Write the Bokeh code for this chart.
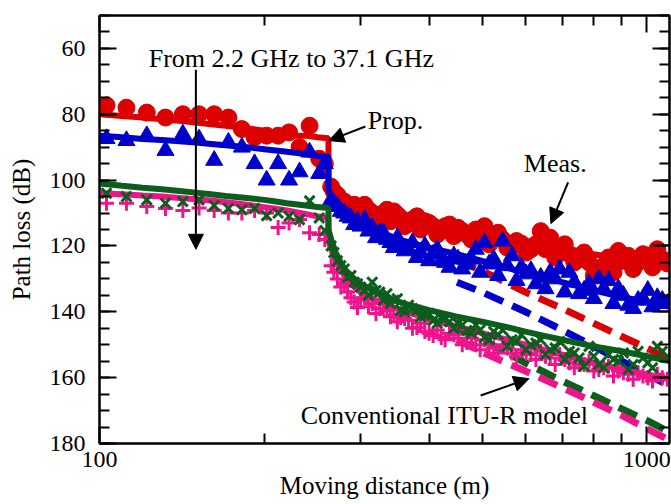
from bokeh.plotting import figure
from bokeh.models import Range1d, FixedTicker, LinearAxis, LogAxis, Arrow, NormalHead, Label
from bokeh.embed import file_html
from bokeh.resources import INLINE

# ---------------- data ----------------
# measured points, first pass
dist_meas = [103, 112, 122, 132, 142, 152, 162, 172, 182, 192, 202, 212, 222, 232, 242, 252, 258,
             265, 272, 280, 288, 296, 305, 315, 325, 335, 345, 355, 367, 380, 393, 407, 421, 436, 452,
             469, 487, 505, 525, 545, 567, 590, 614, 640, 666, 693, 722, 752, 784, 817, 851, 887, 925,
             964, 1004, 1045, 1090]

red_meas = [77.3, 78, 79.5, 81, 80, 80, 80, 81, 84.5, 87, 86.5, 86.5, 85.5, 90, 83.5, 93.5, 95,
            102, 104.5, 106.5, 108, 109, 107.5, 110, 111, 109, 109.5, 111.5, 113, 111, 112.5, 114, 115.5,
            113.5, 114.5, 116.5, 115, 114, 117, 118, 120, 119.3, 121, 115.5, 117.5, 121, 122.5, 124, 125,
            127.5, 123.5, 121.5, 123, 125, 123, 121, 125.3]

blue_meas = [87.4, 88, 86.5, 91, 86, 87.5, 94, 88.5, 90, 95, 100, 95, 100, 97.5, 91.5, 98, 95,
             106, 108, 110, 111.5, 112.5, 112, 114.5, 116, 118, 120.5, 119.5, 121, 123.5, 120, 122.5,
             124.5, 126.5, 124, 125.5, 121, 119, 124, 118.5, 123, 126.5, 127.5, 129.5, 128, 127, 128,
             134.5, 131.5, 130, 130.5, 133, 138, 136.5, 133.5, 135.7, 137.5]

green_meas = [104, 105, 106, 107, 106.5, 106, 107.7, 108.6, 109, 108.6, 110.8, 110, 111, 112, 106.3, 111.5, 115.3,
              120, 124.5, 127, 129, 131.5, 133.5, 131, 134, 134.5, 136.5, 139.5, 138, 139.5, 141, 142.6,
              141.7, 143, 143.6, 145.7, 144, 147.8, 146, 145.5, 148.5, 147, 150, 148.5, 151.5, 149, 152,
              154, 150.5, 156, 153, 155, 157.5, 152, 155.5, 150.5, 153.5]

pink_meas = [107, 107, 108, 108.6, 109.2, 108.5, 109.2, 110, 110, 109.2, 110, 114.4, 113, 112, 116, 116.5, 118,
             126, 130, 131.5, 135.7, 138.7, 135.7, 137.5, 139, 139.6, 141, 141.7, 142.6, 144.8, 146, 147.2,
             147.8, 146.5, 148, 149.3, 150, 148.5, 151, 150, 152.5, 151.5, 153, 152, 154, 153, 155.5,
             156, 155, 157.5, 156.5, 158, 159, 158.5, 160, 159, 160.5]

# measured points, second (interleaved) pass beyond the corner
dist_meas2 = [268, 276, 284, 292, 300, 310, 320, 330, 340, 350, 361, 373, 386, 400, 414, 428, 444, 460,
              478, 496, 515, 535, 556, 578, 602, 627, 653, 680, 708, 737, 768, 800, 834, 869, 906, 944,
              984, 1024, 1067]

red_meas2 = [103.5, 106, 108.5, 107.5, 110.5, 109, 112, 110, 112.5, 110.5, 114, 112, 115, 113, 116.5, 114,
             117, 115.5, 118, 117, 119.5, 116, 120.5, 118.5, 122, 119.5, 121, 123.5, 119.5, 125, 122, 129,
             126, 128, 124.5, 127, 122.5, 126.5, 124]

blue_meas2 = [107, 109.5, 111, 113.5, 114, 115.5, 117.5, 116, 119, 117.5, 121.5, 119, 122, 124.5, 121, 125,
              123, 127, 124, 128, 125.5, 129, 126, 130.5, 128.5, 131.5, 133, 130, 134, 131, 133.5, 136,
              133, 137.5, 135, 139, 136, 138.5, 136.5]

green_meas2 = [122, 126, 129.5, 131, 132.5, 135, 133.5, 136.5, 137.5, 136, 140, 139, 141.5, 140.5, 143.5, 142,
               145, 144, 146.5, 145.5, 148.5, 147, 150.5, 149, 151.5, 149.5, 153, 151, 154.5, 152.5, 156.5,
               153.5, 157, 154.5, 152.5, 156, 154, 157, 152]

pink_meas2 = [128, 132.5, 134, 137, 136.5, 138.5, 140.5, 139, 141.5, 143, 142, 145, 143.5, 146.5, 145.5, 148.5,
              147, 150, 148, 151.5, 150, 152.5, 151, 153.5, 152.5, 154.5, 153.5, 156, 154.5, 157, 156, 158,
              157, 159.5, 158.5, 160.5, 159.5, 161, 160]

# proposed model
dist_prop = [100, 110, 120, 130, 140, 150, 160, 170, 180, 190, 200, 210, 220, 230, 240, 250, 262, 262,
             265, 270, 280, 290, 300, 320, 340, 360, 380, 400, 450, 500, 550, 600, 650, 700, 800, 900,
             1000, 1100]

red_prop = [80, 80.5, 81, 81.5, 82, 82.5, 83, 83.5, 84, 84.5, 85, 85.5, 86, 86.5, 86.5, 87, 87.3, 99,
            101, 103, 105.5, 107, 108.5, 110, 111, 112, 113, 113.5, 115, 116.5, 117.5, 118.5, 119.5, 120.5,
            122.5, 124, 125.5, 126.5]

blue_prop = [86.5, 87, 87.5, 87.8, 88.2, 88.6, 89, 89.4, 89.8, 90.2, 90.6, 91, 91.4, 91.8, 92.2, 92.6, 93, 103,
             105, 107, 110, 112, 113.5, 115.5, 117, 118.5, 119.5, 120.5, 122.5, 124.5, 126.5, 128, 129.5,
             131, 133.5, 135.5, 137, 138.5]

green_prop = [101, 101.7, 102.3, 102.8, 103.3, 103.8, 104.3, 104.8, 105.2, 105.6, 106, 106.5, 107, 107.4, 107.8,
              108.2, 108.5, 115, 118, 122, 127, 129.5, 131.5, 134, 136, 137.5, 138.5, 139.5, 141.5, 143, 144.5,
              146, 147.3, 148.5, 150.5, 152, 153.5, 155]

pink_prop = [104, 104.3, 104.7, 105, 105.4, 105.8, 106.2, 106.7, 107.2, 107.7, 108.2, 108.7, 109.2, 109.8, 110.4,
             111, 111.5, 118, 121, 124.5, 129, 132, 134, 136.5, 138.3, 139.8, 141, 142.3, 144.5, 146.5, 148.3,
             150, 151.6, 153, 155.5, 157.5, 159, 160.5]

# conventional ITU-R model
dist_itu = [450, 500, 600, 700, 800, 900, 1000, 1100]
red_itu = [124.5, 127.5, 134, 139, 143.5, 147.5, 151, 154.5]
blue_itu = [131, 134, 140, 145.5, 150.5, 155, 159, 162.5]
green_itu = [145, 148.5, 155.5, 161, 165.5, 169.5, 173, 176.5]
pink_itu = [148.5, 152.3, 158, 163, 167.5, 171.5, 175.5, 179]

x_major = [100, 1000]
x_minor = [200, 300, 400, 500, 600, 700, 800, 900]
y_major = [60, 80, 100, 120, 140, 160, 180]
y_minor = [50, 55, 60, 65, 70, 75, 80, 85, 90, 95, 100, 105, 110, 115, 120, 125, 130, 135, 140, 145,
           150, 155, 160, 165, 170, 175, 180]

RED = "#DD0000"
BLUE = "#0000CC"
GREEN = "#0B5E1B"
PINK = "#F0148C"
FONT = "Liberation Serif"

# ---------------- figure ----------------
p = figure(width=671, height=504, x_axis_type="log",
           x_range=Range1d(100, 1100), y_range=Range1d(180, 50),
           output_backend="svg", toolbar_location=None,
           min_border_left=99, min_border_right=2, min_border_top=15, min_border_bottom=61)
p.xgrid.visible = False
p.ygrid.visible = False
p.outline_line_color = "black"
p.outline_line_width = 2
p.background_fill_color = "white"
p.border_fill_color = "white"

xt = FixedTicker(ticks=x_major, minor_ticks=x_minor)
yt = FixedTicker(ticks=y_major, minor_ticks=y_minor)

def style(ax, labels=True):
    ax.axis_line_width = 2
    ax.axis_line_color = "black"
    ax.major_tick_in = 17
    ax.major_tick_out = 0
    ax.minor_tick_in = 10
    ax.minor_tick_out = 0
    ax.major_tick_line_width = 2
    ax.minor_tick_line_width = 2
    ax.major_tick_line_color = "black"
    ax.minor_tick_line_color = "black"
    if labels:
        ax.major_label_text_font = FONT
        ax.major_label_text_font_size = "24px"
        ax.major_label_text_color = "black"
        ax.axis_label_text_font = FONT
        ax.axis_label_text_font_size = "25px"
        ax.axis_label_text_font_style = "normal"
        ax.axis_label_text_color = "black"
    else:
        ax.major_label_text_font_size = "1px"
        ax.major_label_text_alpha = 0
        ax.major_label_standoff = 0

p.xaxis.ticker = xt
p.yaxis.ticker = yt
p.xaxis.major_label_overrides = {100: "100", 1000: "1000"}
style(p.xaxis[0])
style(p.yaxis[0])
p.xaxis.axis_label = "Moving distance (m)"
p.yaxis.axis_label = "Path loss (dB)"
p.xaxis.major_label_standoff = 8
p.xaxis.axis_label_standoff = 2
p.yaxis.major_label_standoff = 14
p.yaxis.axis_label_standoff = 12

ra = LinearAxis(ticker=yt)
style(ra, labels=False)
p.add_layout(ra, "right")
ta = LogAxis(ticker=xt)
style(ta, labels=False)
p.add_layout(ta, "above")

# ITU-R conventional model (dashed)
for ys, c in [(red_itu, RED), (blue_itu, BLUE), (green_itu, GREEN), (pink_itu, PINK)]:
    p.line(dist_itu, ys, line_color=c, line_width=7, line_dash="20 10", line_cap="butt")

dm = dist_meas + dist_meas2

# proposed + measured
p.line(dist_prop, red_prop, line_color=RED, line_width=6)
p.scatter(dm, red_meas + red_meas2, marker="circle", size=17, fill_color=RED, line_color=RED)
p.line(dist_prop, blue_prop, line_color=BLUE, line_width=6)
p.scatter(dm, blue_meas + blue_meas2, marker="triangle", size=17, fill_color=BLUE, line_color=BLUE)
p.line(dist_prop, pink_prop, line_color=PINK, line_width=6)
p.scatter(dm, pink_meas + pink_meas2, marker="cross", size=15, line_color=PINK, line_width=3)
p.line(dist_prop, green_prop, line_color=GREEN, line_width=6)
p.scatter(dm, green_meas + green_meas2, marker="x", size=14, line_color=GREEN, line_width=3)

# annotations
def arrow(x0, y0, x1, y1):
    p.add_layout(Arrow(end=NormalHead(size=15, fill_color="black", line_color="black"),
                       x_start=x0, y_start=y0, x_end=x1, y_end=y1,
                       line_color="black", line_width=2))

def label(x, y, t, align="left"):
    p.add_layout(Label(x=x, y=y, text=t, text_font=FONT, text_font_size="26px",
                       text_color="black", text_align=align, text_baseline="middle"))

label(123, 63, "From 2.2 GHz to 37.1 GHz")
arrow(150, 66.5, 150, 121)
label(309, 82, "Prop.")
arrow(306, 83.7, 262.5, 88)
label(596, 95, "Meas.")
arrow(718, 100.7, 668, 113.2)
label(781, 171.5, "Conventional ITU-R model", align="right")
arrow(497, 165.4, 609, 160.3)

open("out.html", "w").write(file_html(p, INLINE))
